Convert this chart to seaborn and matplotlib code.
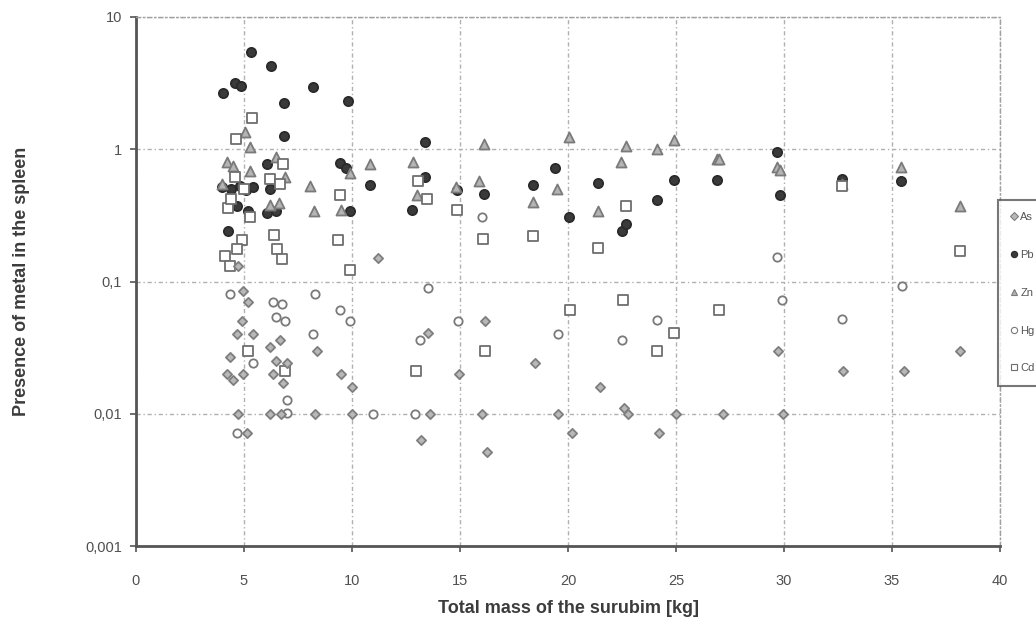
import matplotlib
matplotlib.use('Agg')
import matplotlib.pyplot as plt
import seaborn as sns

# values
as_x = [4.97, 5.2, 4.9, 4.66, 5.43, 4.35, 4.2, 4.97, 4.5, 6.2, 6.67, 6.5, 6.36, 6.82, 6.98, 8.36, 9.48, 9.98,
        4.74, 6.2, 6.7, 8.29, 9.98, 5.12, 13.2, 13.6, 13.5, 11.2, 16.15, 14.97, 18.47, 21.5, 16.0, 19.55,
        22.6, 22.8, 25.0, 20.2, 24.2, 16.24, 29.74, 32.75, 35.55, 38.15, 27.16, 29.97, 4.74]
as_y = [0.085, 0.070, 0.050, 0.040, 0.040, 0.027, 0.020, 0.020, 0.018, 0.032, 0.036, 0.025, 0.020, 0.017, 0.024,
        0.030, 0.020, 0.016, 0.010, 0.010, 0.010, 0.010, 0.010, 0.0072, 0.0063, 0.010, 0.041, 0.15, 0.050,
        0.020, 0.024, 0.016, 0.010, 0.010, 0.011, 0.010, 0.010, 0.0072, 0.0072, 0.0051, 0.030, 0.021, 0.021,
        0.030, 0.010, 0.010, 0.13]

pb_x = [5.31, 6.24, 4.58, 4.86, 4.04, 8.18, 6.85, 9.83, 6.85, 9.44, 10.83, 6.05, 4.0, 4.4, 4.8, 5.1, 5.4, 6.2,
        4.66, 5.2, 6.05, 6.5, 9.9, 12.8, 4.27, 13.4, 13.4, 14.85, 16.1, 18.4, 19.4, 20.06, 21.4, 22.5, 22.7,
        24.1, 24.9, 26.9, 29.66, 29.8, 32.7, 35.4, 9.7]
pb_y = [5.4, 4.26, 3.17, 3.0, 2.64, 2.96, 2.24, 2.32, 1.25, 0.79, 0.54, 0.77, 0.52, 0.50, 0.53, 0.49, 0.52, 0.50,
        0.37, 0.34, 0.33, 0.34, 0.34, 0.35, 0.24, 0.62, 1.13, 0.49, 0.46, 0.54, 0.72, 0.31, 0.56, 0.24, 0.27,
        0.41, 0.59, 0.59, 0.95, 0.45, 0.60, 0.58, 0.72]

zn_x = [5.05, 5.28, 4.2, 5.28, 6.5, 8.06, 8.24, 10.83, 12.84, 13.0, 6.6, 9.9, 16.1, 20.06, 22.7, 22.45, 24.1,
        24.9, 26.9, 15.9, 18.4, 19.5, 21.4, 14.8, 27.0, 29.66, 29.8, 35.4, 38.15, 32.7, 4.0, 4.5, 6.9, 6.2, 9.5]
zn_y = [1.35, 1.04, 0.80, 0.69, 0.87, 0.53, 0.34, 0.78, 0.80, 0.45, 0.39, 0.66, 1.10, 1.24, 1.05, 0.80, 1.0,
        1.18, 0.85, 0.58, 0.40, 0.50, 0.34, 0.52, 0.85, 0.73, 0.70, 0.74, 0.37, 0.55, 0.55, 0.75, 0.62, 0.38, 0.35]

hg_x = [4.35, 8.29, 6.36, 6.74, 6.5, 6.9, 9.44, 9.9, 8.18, 5.43, 6.98, 6.98, 10.96, 12.9, 4.66, 13.15, 13.5,
        14.9, 19.55, 22.5, 24.1, 29.9, 32.7, 35.45, 29.66, 16.0]
hg_y = [0.081, 0.081, 0.070, 0.068, 0.054, 0.050, 0.061, 0.050, 0.040, 0.024, 0.0127, 0.0101, 0.010, 0.010,
        0.0072, 0.036, 0.090, 0.050, 0.040, 0.036, 0.051, 0.072, 0.052, 0.092, 0.153, 0.31]

cd_x = [5.36, 4.63, 6.82, 6.2, 4.58, 6.67, 4.27, 5.28, 9.44, 13.07, 13.46, 4.89, 6.39, 6.51, 6.74, 9.37, 9.9,
        4.12, 4.35, 4.66, 5.2, 6.9, 12.96, 14.85, 16.08, 18.4, 21.4, 22.7, 22.56, 20.1, 24.9, 24.1, 16.15,
        27.0, 38.15, 32.7, 4.4, 5.0]
cd_y = [1.71, 1.20, 0.78, 0.60, 0.62, 0.55, 0.36, 0.31, 0.45, 0.58, 0.42, 0.205, 0.224, 0.177, 0.147, 0.205,
        0.122, 0.155, 0.13, 0.177, 0.030, 0.021, 0.021, 0.35, 0.21, 0.22, 0.18, 0.37, 0.072, 0.061, 0.041,
        0.030, 0.030, 0.061, 0.17, 0.53, 0.42, 0.5]

x_ticks = [0, 5, 10, 15, 20, 25, 30, 35, 40]
y_ticks = [0.001, 0.01, 0.1, 1, 10]
y_tick_labels = ['0,001', '0,01', '0,1', '1', '10']

sns.set_style('white')
plt.rcParams['font.family'] = ['Liberation Sans', 'DejaVu Sans']

fig = plt.figure(figsize=(10.36, 6.27), dpi=100)
ax = fig.add_axes([136 / 1036, 1 - 546 / 627, 864 / 1036, 529 / 627])

# draw order: Pb under the open markers like the original
series = [
    ('Pb', pb_x, pb_y, 'o', 44, '#3a3a3a', '#2a2a2a'),
    ('Zn', zn_x, zn_y, '^', 52, '#b4b4b4', '#7a7a7a'),
    ('Cd', cd_x, cd_y, 's', 58, 'white', '#6e6e6e'),
    ('Hg', hg_x, hg_y, 'o', 36, 'white', '#7a7a7a'),
    ('As', as_x, as_y, 'D', 22, '#b8b8b8', '#7e7e7e'),
]
handles = {}
for name, xs, ys, mk, size, face, edge in series:
    sns.scatterplot(x=xs, y=ys, ax=ax, marker=mk, s=size, color=face, edgecolor=edge,
                    linewidth=1.3, zorder=3)
    handles[name] = plt.Line2D([], [], linestyle='none', marker=mk, markersize=4.5,
                               markerfacecolor=face, markeredgecolor=edge, markeredgewidth=0.8)

ax.set_yscale('log')
ax.set_xlim(0, 40)
ax.set_ylim(0.001, 10)
ax.set_xticks(x_ticks)
ax.set_xticklabels([str(t) for t in x_ticks])
ax.set_yticks(y_ticks)
ax.set_yticklabels(y_tick_labels)
ax.minorticks_off()
ax.tick_params(axis='both', labelsize=10.5, labelcolor='#505050', color='#555555',
               length=4, width=1.2, direction='out', bottom=True, left=True)
ax.tick_params(axis='x', pad=16)
ax.tick_params(axis='y', pad=6)

ax.grid(True, which='major', linestyle=(0, (3, 2, 1, 2)), color='#b0b0b0', linewidth=1.0, zorder=0)
for side in ['left', 'bottom']:
    ax.spines[side].set_color('#555555')
    ax.spines[side].set_linewidth(2.0)
for side in ['top', 'right']:
    ax.spines[side].set_color('#a0a0a0')
    ax.spines[side].set_linestyle((0, (3, 2, 1, 2)))
    ax.spines[side].set_linewidth(1.0)

ax.set_xlabel('Total mass of the surubim [kg]', fontsize=13, fontweight='bold', color='#3c3c3c', labelpad=9)
ax.set_ylabel('Presence of metal in the spleen', fontsize=13, fontweight='bold', color='#3c3c3c', labelpad=40)

order = ['As', 'Pb', 'Zn', 'Hg', 'Cd']
leg = fig.legend([handles[n] for n in order], order, loc='upper left',
                 bbox_to_anchor=(998 / 1036, 1 - 200 / 627), fontsize=8, frameon=True,
                 handlelength=0.6, handletextpad=0.3, labelspacing=2.5, borderpad=1.1,
                 borderaxespad=0, fancybox=False)
leg.get_frame().set_edgecolor('#555555')
leg.get_frame().set_linewidth(1.5)
for t in leg.get_texts():
    t.set_color('#555555')

fig.savefig('out.png', dpi=100)
